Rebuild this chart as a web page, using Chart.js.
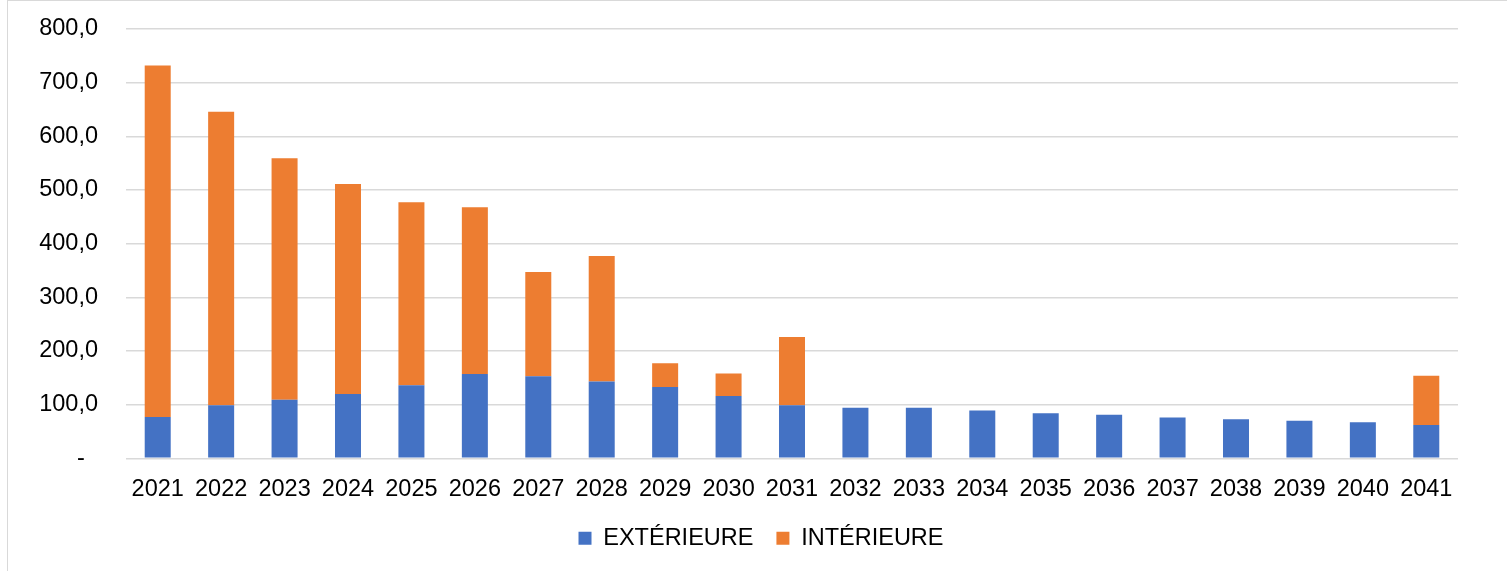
<!DOCTYPE html>
<html>
<head>
<meta charset="utf-8">
<script src="https://cdn.jsdelivr.net/npm/chart.js@4"></script>
<style>
    html, body { margin: 0; padding: 0; background: #fff; }
    #wrap { position: relative; width: 1507px; height: 571px; overflow: hidden; }
    #frame { position: absolute; left: 7px; top: 0; width: 1600px; height: 600px;
             border-left: 1.5px solid #d9d9d9; border-top: 1.5px solid #d9d9d9; }
    canvas { position: absolute; left: 0; top: 0; }
</style>
</head>
<body>
<div id="wrap">
    <div id="frame"></div>
    <canvas id="barChart" width="1507" height="571"></canvas>
</div>
<script>
const years = ['2021', '2022', '2023', '2024', '2025', '2026', '2027', '2028', '2029', '2030', '2031',
               '2032', '2033', '2034', '2035', '2036', '2037', '2038', '2039', '2040', '2041'];
const exterieure = [77, 99, 109, 120, 136, 157, 153, 143, 133, 116, 99,
                    94, 94, 89, 84, 81, 76, 73, 70, 67, 62];
const interieure = [655, 547, 450, 391, 341, 311, 194, 234, 44, 42, 127,
                    0, 0, 0, 0, 0, 0, 0, 0, 0, 92];
const yTicks = [0, 100, 200, 300, 400, 500, 600, 700, 800];

const font = { family: '"Liberation Sans", Arial, sans-serif', size: 23.5 };

function formatTick(value) {
    if (value === 0) return '-  ';
    return value.toFixed(1).replace('.', ',');
}

// legend sits a bit right of the canvas centre, like the Excel original
const legendShift = {
    id: 'legendShift',
    afterLayout(chart) {
        chart.legend.left += 32;
        chart.legend.right += 32;
    }
};

const ctx = document.getElementById('barChart').getContext('2d');
new Chart(ctx, {
    type: 'bar',
    data: {
        labels: years,
        datasets: [
            {
                label: 'EXTÉRIEURE',
                data: exterieure,
                backgroundColor: '#4472C4',
                barPercentage: 0.41,
                categoryPercentage: 1
            },
            {
                label: 'INTÉRIEURE',
                data: interieure,
                backgroundColor: '#ED7D31',
                barPercentage: 0.41,
                categoryPercentage: 1
            }
        ]
    },
    plugins: [legendShift],
    options: {
        responsive: false,
        animation: false,
        layout: {
            padding: { left: 0, right: 49, top: 29, bottom: 11 }
        },
        plugins: {
            legend: {
                position: 'bottom',
                labels: {
                    color: '#000',
                    font: font,
                    boxWidth: 13,
                    boxHeight: 13,
                    padding: 23
                }
            },
            tooltip: { enabled: false }
        },
        scales: {
            x: {
                stacked: true,
                grid: {
                    display: true,
                    drawOnChartArea: false,
                    drawTicks: true,
                    tickLength: 17,
                    tickColor: 'rgba(0,0,0,0)'
                },
                border: { display: false },
                ticks: {
                    color: '#000',
                    font: font,
                    padding: 0,
                    maxRotation: 0,
                    autoSkip: false
                }
            },
            y: {
                stacked: true,
                min: 0,
                max: 800,
                afterBuildTicks: (scale) => {
                    scale.ticks = yTicks.map(v => ({ value: v }));
                },
                afterFit: (scale) => {
                    scale.width = 126;
                },
                grid: {
                    color: '#d9d9d9',
                    lineWidth: 1.5,
                    drawTicks: true,
                    tickLength: 28,
                    tickColor: 'rgba(0,0,0,0)'
                },
                border: { display: false },
                ticks: {
                    color: '#000',
                    font: font,
                    padding: 0,
                    callback: (value) => formatTick(value)
                }
            }
        }
    }
});
</script>
</body>
</html>
